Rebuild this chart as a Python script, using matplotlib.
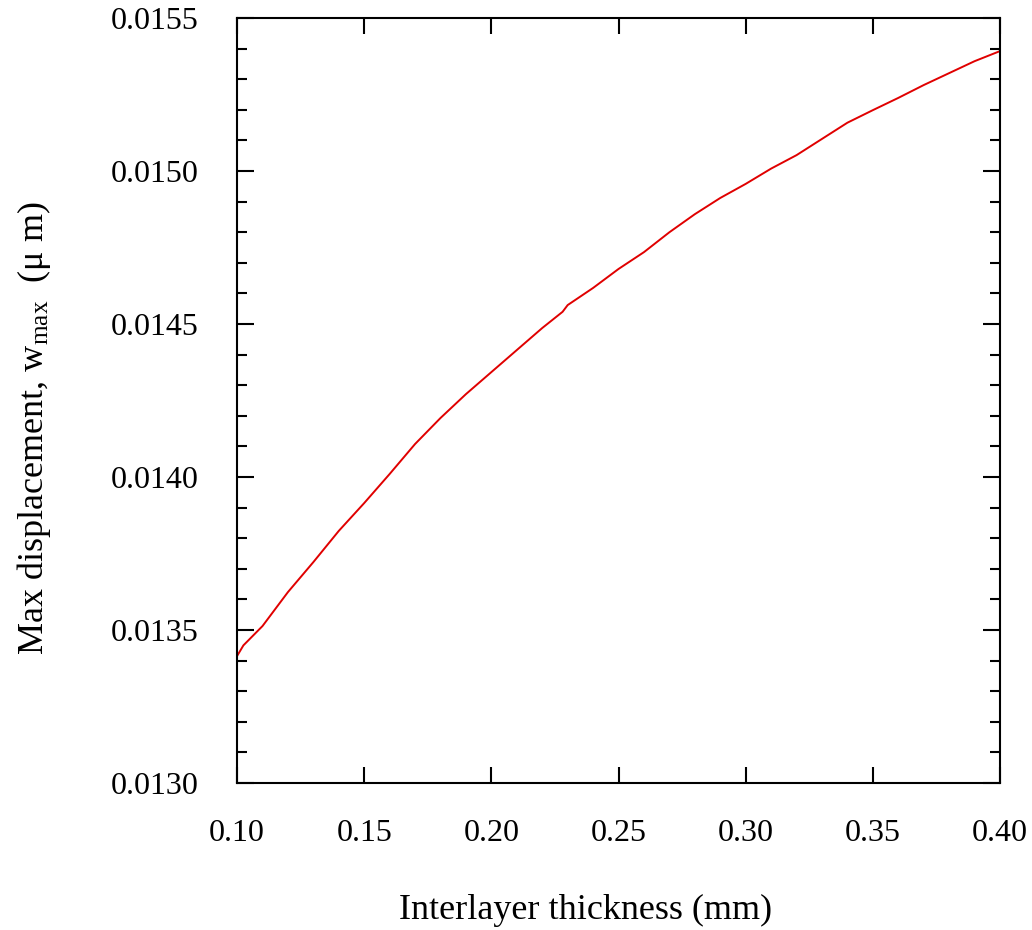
import numpy as np
import matplotlib
matplotlib.use('Agg')
import matplotlib.pyplot as plt
from matplotlib.ticker import MultipleLocator, FormatStrFormatter

# interlayer thickness (mm) and max displacement (um)
thickness = [0.100, 0.1025, 0.11, 0.12, 0.13, 0.14, 0.15, 0.16, 0.17, 0.18,
             0.19, 0.20, 0.21, 0.22, 0.228, 0.230, 0.24, 0.25, 0.26, 0.27,
             0.28, 0.29, 0.30, 0.31, 0.32, 0.33, 0.34, 0.35, 0.36, 0.37,
             0.38, 0.39, 0.40]
w_max = [0.013415, 0.013450, 0.013513, 0.013624, 0.013722, 0.013824,
         0.013915, 0.014010, 0.014108, 0.014193, 0.014271, 0.014343,
         0.014415, 0.014487, 0.014540, 0.014562, 0.014618, 0.014680,
         0.014735, 0.014800, 0.014859, 0.014912, 0.014958, 0.015008,
         0.015052, 0.015105, 0.015158, 0.015199, 0.015239, 0.015281,
         0.015320, 0.015359, 0.015392]

plt.rcParams['font.family'] = ['Liberation Serif', 'DejaVu Serif']
plt.rcParams['mathtext.fontset'] = 'custom'
plt.rcParams['mathtext.rm'] = 'Liberation Serif'
plt.rcParams['mathtext.it'] = 'Liberation Serif:italic'

fig = plt.figure(figsize=(10.32, 9.30), dpi=100)
ax = fig.add_axes([0.2297, 0.158, 0.7393, 0.8226])

ax.plot(thickness, w_max, color='#e00000', lw=1.4)

ax.set_xlim(0.10, 0.40)
ax.set_ylim(0.0130, 0.0155)
ax.xaxis.set_major_locator(MultipleLocator(0.05))
ax.xaxis.set_major_formatter(FormatStrFormatter('%.2f'))
ax.yaxis.set_major_locator(MultipleLocator(0.0005))
ax.yaxis.set_minor_locator(MultipleLocator(0.0001))
ax.yaxis.set_major_formatter(FormatStrFormatter('%.4f'))

ax.tick_params(axis='both', which='both', direction='in', top=True, right=True,
               width=1.5, labelsize=23, pad=28)
ax.tick_params(axis='x', which='major', pad=26)
ax.tick_params(axis='y', which='major', length=12)
ax.tick_params(axis='y', which='minor', length=7)
ax.tick_params(axis='x', which='major', length=11.5)
for s in ax.spines.values():
    s.set_linewidth(1.5)

ax.set_xlabel('Interlayer thickness (mm)', fontsize=26, labelpad=33)
ax.set_ylabel(r'Max displacement, w$_{\mathrm{max}}$  (μ m)', fontsize=26, labelpad=41)
ax.xaxis.label.set_x(0.457)
ax.yaxis.label.set_y(0.464)

fig.savefig('out.png', dpi=100)
